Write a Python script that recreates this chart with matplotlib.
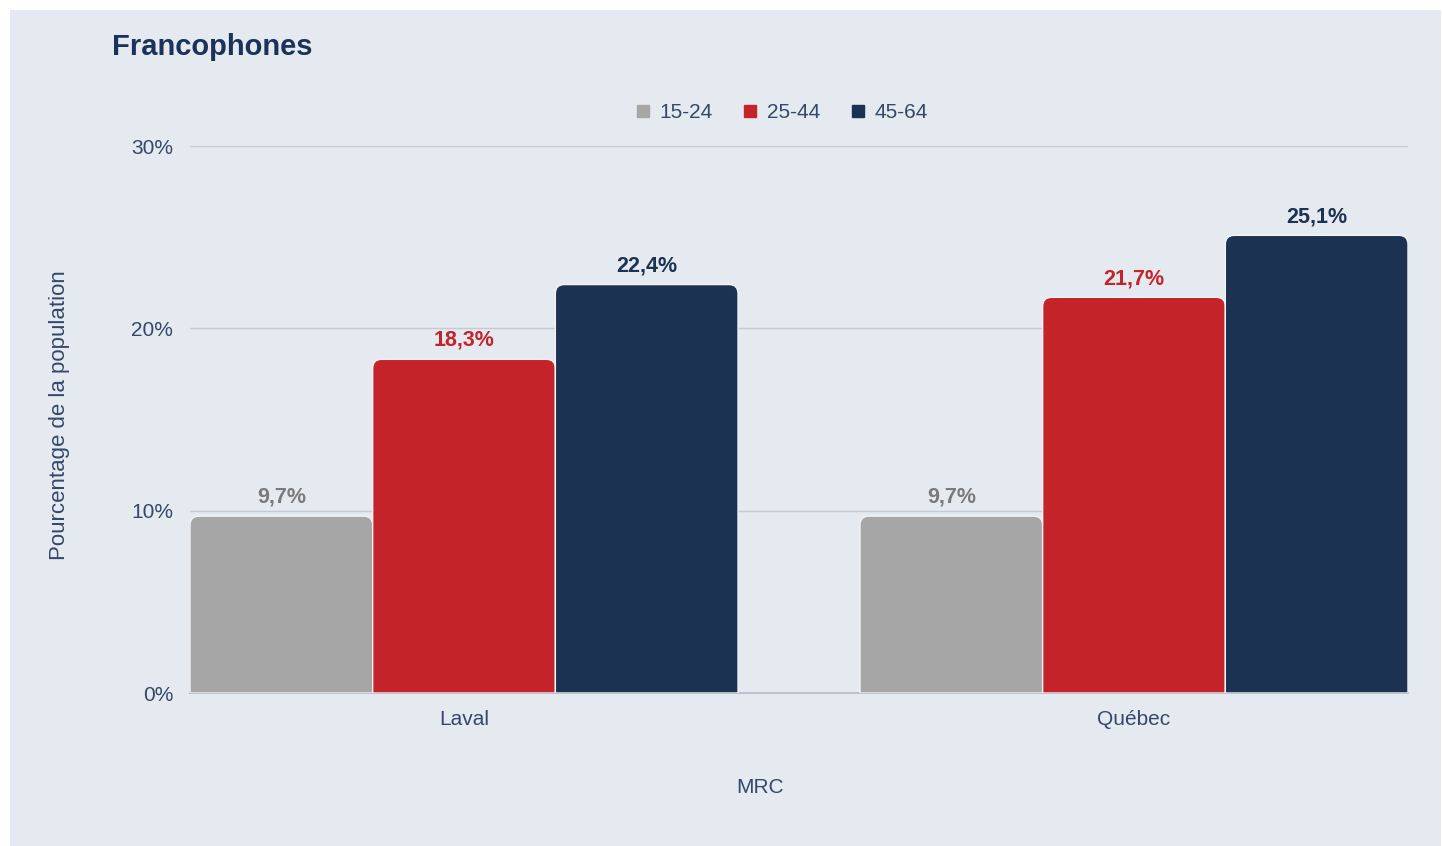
import matplotlib
matplotlib.use("Agg")
import matplotlib.pyplot as plt
from matplotlib.path import Path
from matplotlib.patches import PathPatch, Rectangle
from matplotlib.lines import Line2D
import numpy as np

# ---- data ----
categories = ["Laval", "Québec"]
series_names = ["15-24", "25-44", "45-64"]
values_1524 = [9.7, 9.7]
values_2544 = [18.3, 21.7]
values_4564 = [22.4, 25.1]
yticks = [0, 10, 20, 30]
title = "Francophones"
xlabel = "MRC"
ylabel = "Pourcentage de la population"

# ---- style ----
bar_colors = ["#a6a6a6", "#c4232a", "#1b3252"]
label_colors = ["#7a7a7a", "#c4232a", "#1b3252"]
bg = "#e5eaf0"
text_col = "#354869"
title_col = "#1b3358"
grid_col = "#c4cad5"
plt.rcParams['font.family'] = ['Liberation Sans', 'DejaVu Sans']

W, H = 1443, 846
fig = plt.figure(figsize=(W / 100, H / 100), dpi=100)
fig.patch.set_facecolor("white")
fig.patches.append(Rectangle((10 / W, 0), (W - 12) / W, (H - 10) / H,
                             transform=fig.transFigure, facecolor=bg,
                             edgecolor="none", zorder=-10))

ax = fig.add_axes([190 / W, 1 - 693 / H, (1408 - 190) / W, (693 - 146) / H])
ax.set_facecolor("none")

slot = 0.818 / 3
x = np.arange(len(categories))
all_series = [values_1524, values_2544, values_4564]

ax.set_xlim(-0.409, len(categories) - 1 + 0.409)
ax.set_ylim(0, 30)

# pixel -> data conversion for corner radius
ax_w_px = (1408 - 190)
ax_h_px = (693 - 146)
r_px = 9
rx = r_px * (ax.get_xlim()[1] - ax.get_xlim()[0]) / ax_w_px
ry = r_px * (ax.get_ylim()[1] - ax.get_ylim()[0]) / ax_h_px


def rounded_top(x0, y0, w, h):
    x1, y1 = x0 + w, y0 + h
    verts = [(x0, y0), (x0, y1 - ry), (x0, y1), (x0 + rx, y1),
             (x1 - rx, y1), (x1, y1), (x1, y1 - ry), (x1, y0), (x0, y0)]
    codes = [Path.MOVETO, Path.LINETO, Path.CURVE3, Path.CURVE3,
             Path.LINETO, Path.CURVE3, Path.CURVE3, Path.LINETO, Path.CLOSEPOLY]
    return Path(verts, codes)


for i, (vals, name) in enumerate(zip(all_series, series_names)):
    bars = ax.bar(x + (i - 1) * slot, vals, width=slot, color=bar_colors[i])
    for rect, v in zip(bars, vals):
        rect.set_visible(False)
        p = rounded_top(rect.get_x(), rect.get_y(), rect.get_width(), rect.get_height())
        ax.add_patch(PathPatch(p, facecolor=bar_colors[i], edgecolor="#f2f4f7",
                               linewidth=1.0, zorder=3))
        ax.annotate(f"{v:.1f}".replace(".", ",") + "%",
                    (rect.get_x() + rect.get_width() / 2, v),
                    xytext=(0, 6), textcoords="offset points",
                    ha="center", va="bottom", fontsize=15.5, fontweight="bold",
                    color=label_colors[i], zorder=4)

ax.set_yticks(yticks)
ax.set_yticklabels([f"{t}%" for t in yticks], fontsize=15, color=text_col)
ax.set_xticks(x)
ax.set_xticklabels(categories, fontsize=15, color=text_col)
ax.tick_params(axis="both", length=0)
ax.tick_params(axis="y", pad=12)
ax.tick_params(axis="x", pad=12)
ax.grid(axis="y", color=grid_col, linewidth=1.0, zorder=0)
ax.set_axisbelow(True)
for s in ["top", "right", "left"]:
    ax.spines[s].set_visible(False)
ax.spines["bottom"].set_color("#b5bcc8")
ax.spines["bottom"].set_linewidth(1.2)
ax.spines["bottom"].set_zorder(2)

fig.text(112 / W, 1 - 47 / H, title, fontsize=21, fontweight="bold",
         color=title_col, ha="left", va="center")
fig.text(60 / W, 1 - 415 / H, ylabel, rotation=90, fontsize=16,
         color=text_col, ha="center", va="center")
fig.text(760 / W, 1 - 787 / H, xlabel, fontsize=15, color=text_col,
         ha="center", va="center")

handles = [Line2D([], [], linestyle="none", marker="s", markersize=8,
                  markerfacecolor=c, markeredgecolor=c) for c in bar_colors]
fig.legend(handles, series_names, loc="center",
           bbox_to_anchor=(782 / W, 1 - 113 / H), ncol=3, frameon=False,
           fontsize=15, handlelength=0.6, handletextpad=0.5,
           columnspacing=1.5, labelcolor=text_col)

fig.savefig("out.png", dpi=100, facecolor=fig.get_facecolor())
